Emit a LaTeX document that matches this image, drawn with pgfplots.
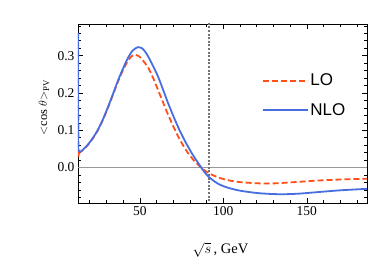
\documentclass[border=0pt]{standalone}
\usepackage{fontspec}
\setmainfont{Liberation Serif}
\newfontfamily\sansf{Liberation Sans}
\usepackage{pgfplots}
\pgfplotsset{compat=1.18}
\definecolor{loRed}{RGB}{255,80,25}
\definecolor{nloBlue}{RGB}{70,110,225}
\begin{document}
\begin{tikzpicture}
\path[use as bounding box] (-78pt,-61pt) rectangle (296pt,203pt);
\begin{axis}[
  scale only axis, width=289pt, height=179pt,
  xmin=13, xmax=186, ymin=-0.095, ymax=0.385,
  axis line style={black, line width=0.8pt},
  tick style={black, line width=0.6pt},
  tick align=inside,
  xtick={50,100,150}, minor xtick={20,30,40,60,70,80,90,110,120,130,140,160,170,180},
  ytick={0,0.1,0.2,0.3}, minor ytick={-0.08,-0.06,-0.04,-0.02,0.02,0.04,0.06,0.08,0.12,0.14,0.16,0.18,0.22,0.24,0.26,0.28,0.32,0.34,0.36,0.38},
  major tick length=5pt, minor tick length=3pt,
  yticklabel style={/pgf/number format/fixed,/pgf/number format/fixed zerofill,/pgf/number format/precision=1},
  /pgf/number format/assume math mode=true,
  tick label style={font=\fontsize{13.5}{15}\selectfont},
  xlabel={$\sqrt{s}$\,, GeV},
  ylabel={$<$cos $\theta$$>_{\mathrm{PV}}$},
  xlabel style={font=\fontsize{14.5}{16}\selectfont, at={(axis description cs:0.5,0)}, anchor=center, yshift=-47pt, xshift=-2pt},
  ylabel style={font=\fontsize{12.5}{14}\selectfont, at={(axis description cs:0,0.5)}, anchor=center, yshift=34pt, xshift=6pt},
  legend style={draw=none, fill=none, at={(axis cs:121,0.262)}, anchor=north west,
    font=\sansf\fontsize{17}{19}\selectfont, row sep=12pt},
  legend cell align=left,
  legend image code/.code={\draw[#1] (0pt,0pt) -- (45pt,0pt);},
  clip=true,
]
\addplot[gray!80, line width=0.8pt, forget plot] coordinates {(13,0) (186,0)};
\addplot[black!55, line width=2pt, dash pattern=on 2pt off 1.6pt, forget plot] coordinates {(91.19,-0.1) (91.19,0.4)};
\addplot[loRed, line width=1.8pt, dash pattern=on 6pt off 3pt, smooth, tension=0.5] coordinates {
(13.15,0.36) (13.3,0.05) (14,0.042) (16,0.047) (19,0.061) (22,0.079) (25,0.101) (28,0.129) (31,0.161)
(34,0.196) (37,0.231) (40,0.262) (43,0.287) (45,0.298) (47,0.303) (49,0.300) (51,0.292)
(55,0.268) (58,0.240) (61,0.207) (64,0.174) (67,0.141) (70,0.111) (73,0.083) (76,0.059)
(79,0.038) (82,0.021) (85,0.007) (88,-0.005) (91,-0.014) (94,-0.021) (98,-0.028) (104,-0.035)
(110,-0.039) (116,-0.041) (122,-0.0425) (130,-0.0425) (136,-0.041) (146,-0.038) (156,-0.035)
(170,-0.032) (186,-0.030)};
\addlegendentry{LO}
\addplot[nloBlue, line width=1.8pt] coordinates {(13.2,0.36) (13.2,0.05)};
\addplot[nloBlue, line width=1.8pt, smooth, tension=0.5, forget plot] coordinates {
(13.2,0.05) (14,0.042) (16,0.048) (19,0.062) (22,0.080) (25,0.102) (28,0.130) (31,0.163)
(34,0.198) (37,0.234) (40,0.266) (43,0.295) (46,0.315) (49,0.323) (51,0.321) (53,0.312)
(55,0.298) (58,0.272) (61,0.243) (64,0.208) (67,0.172) (70,0.139) (73,0.108) (76,0.080)
(79,0.055) (82,0.032) (85,0.012) (88,-0.008) (91,-0.024) (95,-0.038) (98,-0.046) (102,-0.053)
(106,-0.058) (110,-0.062) (116,-0.066) (122,-0.069) (130,-0.071) (136,-0.0715) (145,-0.070)
(156,-0.066) (170,-0.061) (186,-0.057)};
\addlegendentry{NLO}
\end{axis}
\end{tikzpicture}
\end{document}
